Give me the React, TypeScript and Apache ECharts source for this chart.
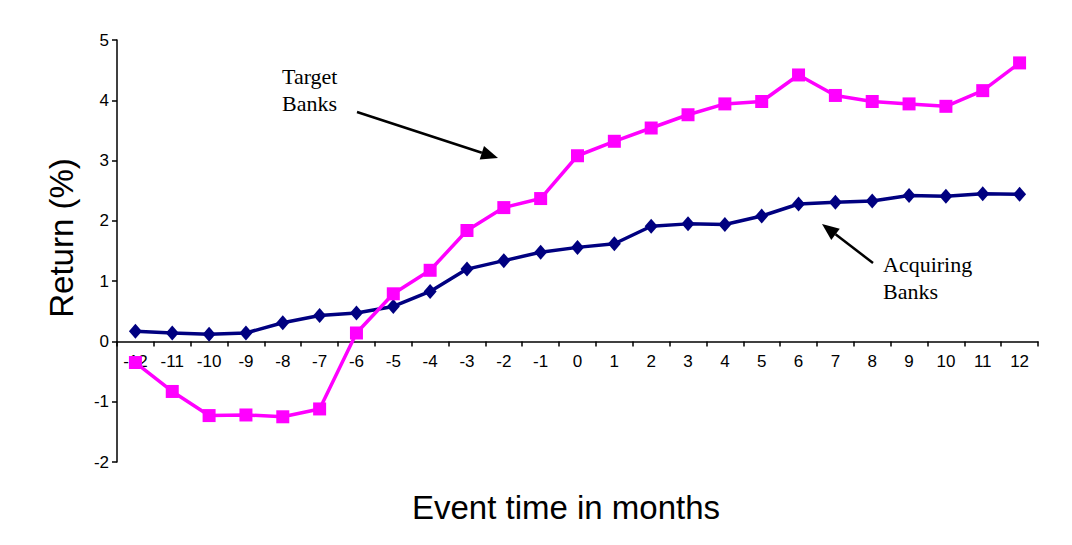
import React, { useEffect, useRef } from 'react'
import * as echarts from 'echarts'

const months = ['-12', '-11', '-10', '-9', '-8', '-7', '-6', '-5', '-4', '-3', '-2', '-1', '0', '1', '2', '3', '4', '5', '6', '7', '8', '9', '10', '11', '12']

const targetBanks = [-0.35, -0.83, -1.23, -1.22, -1.25, -1.12, 0.14, 0.79, 1.18, 1.84, 2.22, 2.37, 3.08, 3.32, 3.54, 3.76, 3.94, 3.98, 4.42, 4.08, 3.98, 3.94, 3.9, 4.16, 4.62]

const acquiringBanks = [0.17, 0.14, 0.12, 0.14, 0.31, 0.43, 0.47, 0.58, 0.83, 1.2, 1.34, 1.48, 1.56, 1.62, 1.91, 1.95, 1.94, 2.08, 2.28, 2.31, 2.33, 2.42, 2.41, 2.45, 2.44]

const yTicks = { min: -2, max: 5, interval: 1 }

const sans = '"Liberation Sans", Arial, Helvetica, sans-serif'
const serif = '"Liberation Serif", "Times New Roman", serif'

// annotation arrow: shaft + filled head
const arrow = (x1: number, y1: number, x2: number, y2: number) => {
  const ang = Math.atan2(y2 - y1, x2 - x1)
  const len = 17
  const half = 7
  const bx = x2 - len * Math.cos(ang)
  const by = y2 - len * Math.sin(ang)
  const px = -Math.sin(ang) * half
  const py = Math.cos(ang) * half
  return [
    {
      type: 'line',
      shape: { x1, y1, x2: bx, y2: by },
      style: { stroke: '#000', lineWidth: 2.5 }
    },
    {
      type: 'polygon',
      shape: { points: [[x2, y2], [bx + px, by + py], [bx - px, by - py]] },
      style: { fill: '#000' }
    }
  ]
}

const App: React.FC = () => {
  const chartRef = useRef<HTMLDivElement>(null)

  useEffect(() => {
    if (!chartRef.current) return
    const chart = echarts.init(chartRef.current, undefined, { renderer: 'svg' })

    const option: any = {
      animation: false,
      backgroundColor: '#fff',
      grid: { left: 117, right: 34, top: 40, bottom: 83, containLabel: false },
      xAxis: {
        type: 'category',
        data: months,
        boundaryGap: true,
        axisLine: { onZero: true, lineStyle: { color: '#000', width: 1.5 } },
        axisTick: { show: true, interval: 0, length: 5, lineStyle: { color: '#000', width: 1.5 } },
        // labels sit just under the zero line, not at the grid bottom
        axisLabel: { interval: 0, color: '#000', fontSize: 17, fontFamily: sans, margin: -109 },
        splitLine: { show: false }
      },
      yAxis: {
        type: 'value',
        min: yTicks.min,
        max: yTicks.max,
        interval: yTicks.interval,
        axisLine: { show: true, lineStyle: { color: '#000', width: 1.5 } },
        axisTick: { show: true, length: 5, lineStyle: { color: '#000', width: 1.5 } },
        axisLabel: { color: '#000', fontSize: 17, fontFamily: sans, margin: 8 },
        splitLine: { show: false }
      },
      series: [
        {
          name: 'Acquiring Banks',
          type: 'line',
          data: acquiringBanks,
          symbol: 'diamond',
          symbolSize: [13, 15],
          lineStyle: { color: '#000080', width: 3.5 },
          itemStyle: { color: '#000080' },
          z: 2
        },
        {
          name: 'Target Banks',
          type: 'line',
          data: targetBanks,
          symbol: 'rect',
          symbolSize: 13,
          lineStyle: { color: '#FF00FF', width: 3.5 },
          itemStyle: { color: '#FF00FF' },
          z: 3
        }
      ],
      graphic: [
        {
          type: 'text',
          x: 566,
          y: 507,
          style: {
            text: 'Event time in months',
            fill: '#000',
            font: `33px ${sans}`,
            textAlign: 'center',
            textVerticalAlign: 'middle'
          }
        },
        {
          type: 'text',
          x: 61,
          y: 238,
          rotation: Math.PI / 2,
          style: {
            text: 'Return (%)',
            fill: '#000',
            font: `33px ${sans}`,
            textAlign: 'center',
            textVerticalAlign: 'middle'
          }
        },
        {
          type: 'text',
          x: 282,
          y: 63,
          style: { text: 'Target\nBanks', fill: '#000', font: `22px ${serif}`, lineHeight: 27 }
        },
        {
          type: 'text',
          x: 883,
          y: 251,
          style: { text: 'Acquiring\nBanks', fill: '#000', font: `22px ${serif}`, lineHeight: 27 }
        },
        ...arrow(357, 112, 498, 158),
        ...arrow(873, 263, 822, 224)
      ]
    }

    chart.setOption(option)
    return () => chart.dispose()
  }, [])

  return (
    <div
      ref={chartRef}
      style={{ position: 'fixed', left: 0, top: 0, width: '1072px', height: '545px' }}
    />
  )
}

export default App
